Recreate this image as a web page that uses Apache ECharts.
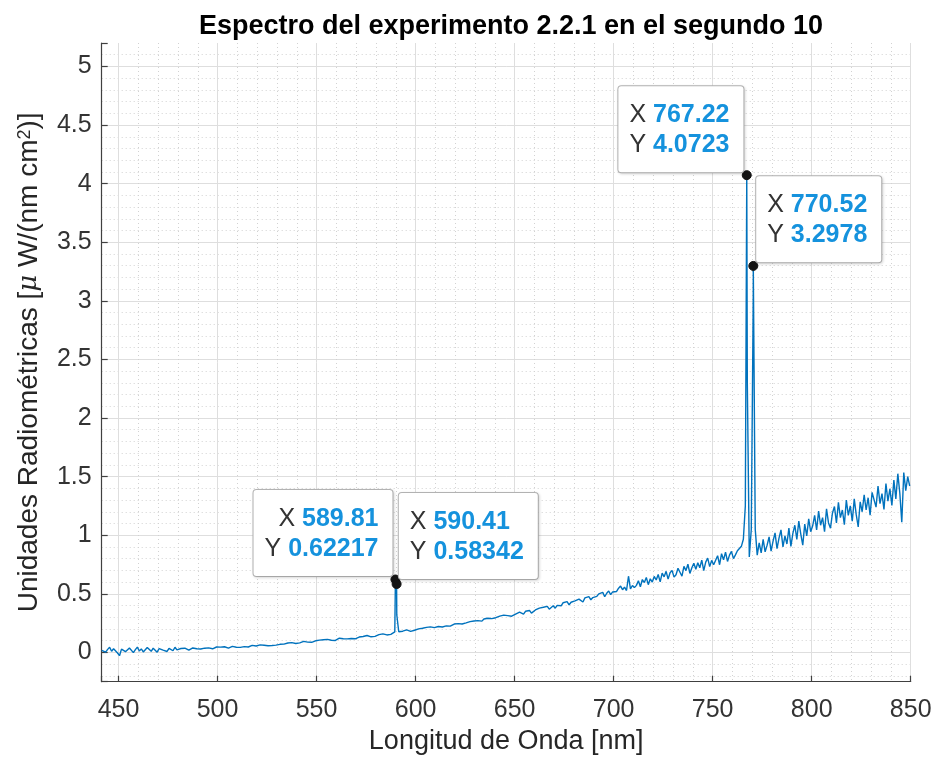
<!DOCTYPE html>
<html><head><meta charset="utf-8">
<script src="https://cdn.jsdelivr.net/npm/echarts@6/dist/echarts.min.js"></script>
<style>html,body{margin:0;padding:0;background:#fff}#c{width:934px;height:761px}</style>
</head><body><div id="c"></div>
<script>
// ---------- text ----------
const TITLE = 'Espectro del experimento 2.2.1 en el segundo 10';
const X_NAME = 'Longitud de Onda [nm]';
const Y_NAME = 'Unidades Radiométricas [{mu|μ} W/(nm cm{sup|2})]';

// ---------- axis ranges ----------
const X_MIN = 441.5, X_MAX = 850;
const Y_MIN = -0.25, Y_MAX = 5.2;

// ---------- spectrum: wavelength grid start / step (nm) ----------
const WL_START = 441.5;
const WL_STEP = 1;

// ---------- spectrum values (one per nm) ----------
const SPEC_Y = [
  0.018,0.035,0.002,0.026,0.044,0.010,0.031,0.015,-0.005,-0.028,
  0.028,0.040,0.006,0.019,0.037,0.033,-0.002,0.024,0.045,0.012,
  0.030,0.004,0.017,0.041,0.027,0.009,0.036,0.020,0.002,0.033,
  0.040,0.019,0.028,0.008,0.035,0.031,0.014,0.044,0.022,0.016,
  0.033,0.022,0.036,0.030,0.019,0.027,0.038,0.024,0.031,0.021,
  0.029,0.041,0.036,0.026,0.039,0.044,0.031,0.035,0.046,0.033,
  0.045,0.037,0.048,0.041,0.036,0.047,0.051,0.040,0.044,0.049,
  0.043,0.054,0.049,0.058,0.046,0.052,0.060,0.047,0.055,0.051,
  0.064,0.055,0.061,0.068,0.057,0.063,0.059,0.070,0.062,0.066,
  0.069,0.077,0.071,0.066,0.080,0.074,0.083,0.070,0.076,0.085,
  0.081,0.090,0.094,0.083,0.088,0.097,0.086,0.092,0.099,0.089,
  0.105,0.097,0.108,0.101,0.111,0.099,0.104,0.113,0.102,0.109,
  0.121,0.112,0.117,0.126,0.115,0.124,0.119,0.130,0.116,0.125,
  0.131,0.140,0.136,0.129,0.144,0.138,0.133,0.147,0.137,0.142,
  0.152,0.146,0.158,0.155,0.149,0.162,0.154,0.160,0.175,0.320,
  0.176,0.186,0.181,0.175,0.192,0.186,0.180,0.196,0.189,0.199,
  0.201,0.212,0.206,0.199,0.214,0.209,0.218,0.204,0.211,0.220,
  0.221,0.229,0.217,0.232,0.226,0.238,0.224,0.231,0.242,0.233,
  0.246,0.255,0.242,0.259,0.252,0.247,0.263,0.256,0.268,0.258,
  0.271,0.280,0.267,0.285,0.279,0.291,0.274,0.288,0.282,0.296,
  0.299,0.310,0.304,0.318,0.301,0.314,0.322,0.309,0.317,0.327,
  0.330,0.344,0.337,0.326,0.351,0.340,0.358,0.335,0.349,0.362,
  0.364,0.378,0.361,0.385,0.374,0.393,0.369,0.382,0.398,0.377,
  0.401,0.415,0.398,0.424,0.410,0.433,0.405,0.428,0.419,0.440,
  0.438,0.455,0.447,0.430,0.465,0.452,0.476,0.449,0.468,0.481,
  0.478,0.500,0.490,0.512,0.475,0.505,0.524,0.493,0.516,0.532,
  0.520,0.548,0.566,0.535,0.557,0.528,0.650,0.542,0.571,0.553,
  0.572,0.612,0.560,0.622,0.596,0.640,0.578,0.628,0.600,0.648,
  0.618,0.665,0.602,0.676,0.645,0.692,0.625,0.680,0.700,0.642,
  0.662,0.718,0.684,0.650,0.735,0.698,0.752,0.674,0.722,0.760,
  0.710,0.765,0.722,0.788,0.698,0.770,0.805,0.732,0.785,0.748,
  0.765,0.825,0.748,0.842,0.790,0.856,0.776,0.830,0.862,0.800,
  0.832,0.868,0.851,0.905,0.965,1.250,2.300,0.815,1.050,3.050,
  1.050,0.830,0.935,0.850,0.965,0.858,0.915,0.985,0.865,0.950,
  1.020,0.885,0.975,1.045,0.900,0.995,0.925,1.060,0.905,1.015,
  1.085,0.965,1.120,1.010,0.915,1.095,0.995,1.140,1.030,1.080,
  1.170,1.045,1.205,1.085,1.150,1.030,1.225,1.105,1.060,1.190,
  1.245,1.105,1.280,1.150,1.215,1.090,1.300,1.170,1.250,1.120,
  1.310,1.175,1.070,1.285,1.200,1.345,1.215,1.320,1.170,1.365,
  1.380,1.240,1.420,1.270,1.355,1.220,1.440,1.290,1.395,1.255,
  1.470,1.310,1.525,1.360,1.110,1.535,1.380,1.500,1.420
];

// ---------- emission line samples (off the 1 nm grid) ----------
const PEAK_X = [589.81, 590.10, 590.41, 767.22, 770.52];
const PEAK_Y = [0.62217, 0.55, 0.58342, 4.0723, 3.2978];

// ---------- data tips ----------
const TIP_X = [589.81, 590.41, 767.22, 770.52];
const TIP_Y = [0.62217, 0.58342, 4.0723, 3.2978];

// ---------- styles (label placement per tip) ----------
const TIP_STYLE = [
  {position: [2.1, 1.5], align: 'right'},
  {position: [7.2, 0], align: 'left'},
  {position: [1.7, 2.1], align: 'right'},
  {position: [7.9, 1.3], align: 'left'}
];

const FONT = '"Liberation Sans", Arial, Helvetica, sans-serif';

const spectrum = SPEC_Y.map((y, i) => [WL_START + i * WL_STEP, y])
  .concat(PEAK_X.map((x, i) => [x, PEAK_Y[i]]))
  .sort((a, b) => a[0] - b[0]);

const tips = TIP_X.map((x, i) => ({
  value: [x, TIP_Y[i]],
  label: {
    position: TIP_STYLE[i].position,
    align: TIP_STYLE[i].align,
    verticalAlign: 'bottom'
  }
}));

const chart = echarts.init(document.getElementById('c'), null, {renderer: 'canvas'});
chart.setOption({
  animation: false,
  backgroundColor: '#ffffff',
  title: {
    text: TITLE,
    left: 506, textAlign: 'center', top: 8,
    textStyle: {fontFamily: FONT, fontSize: 27, fontWeight: 'bold', color: '#000000'}
  },
  grid: {left: 101.7, right: 23.3, top: 43, bottom: 79.3, containLabel: false, outerBoundsMode: 'none'},
  xAxis: {
    type: 'value', min: X_MIN, max: X_MAX, splitNumber: 8,
    name: X_NAME, nameLocation: 'middle', nameGap: 46,
    nameTextStyle: {fontFamily: FONT, fontSize: 27, color: '#262626'},
    axisLine: {show: true, onZero: false, lineStyle: {color: '#404040', width: 1.2}},
    axisTick: {show: true, inside: true, length: 6, lineStyle: {color: '#404040', width: 1.2}},
    axisLabel: {fontFamily: FONT, fontSize: 25, color: '#333333', margin: 16, showMinLabel: false},
    splitLine: {show: true, lineStyle: {color: '#dedede', width: 1}},
    minorTick: {show: true, splitNumber: 5, length: 0, lineStyle: {opacity: 0}},
    minorSplitLine: {show: true, lineStyle: {color: '#d2d2d2', width: 1, type: [1, 3]}}
  },
  yAxis: {
    type: 'value', min: Y_MIN, max: Y_MAX, splitNumber: 11,
    name: Y_NAME, nameLocation: 'middle', nameGap: 58, nameRotate: 90,
    nameTextStyle: {
      fontFamily: FONT, fontSize: 28, color: '#262626',
      rich: {
        mu: {fontFamily: '"DejaVu Serif", serif', fontStyle: 'italic', fontSize: 26, color: '#262626', lineHeight: 28},
        sup: {fontFamily: FONT, fontSize: 18, color: '#262626', verticalAlign: 'top', lineHeight: 18}
      }
    },
    axisLine: {show: true, onZero: false, lineStyle: {color: '#404040', width: 1.2}},
    axisTick: {show: true, inside: true, length: 6, lineStyle: {color: '#404040', width: 1.2}},
    axisLabel: {fontFamily: FONT, fontSize: 25, color: '#333333', margin: 10, showMinLabel: false, showMaxLabel: false},
    splitLine: {show: true, showMaxLine: false, lineStyle: {color: '#dedede', width: 1}},
    minorTick: {show: true, splitNumber: 5, length: 0, lineStyle: {opacity: 0}},
    minorSplitLine: {show: true, lineStyle: {color: '#d2d2d2', width: 1, type: [1, 3]}}
  },
  series: [
    {
      type: 'line', data: spectrum, showSymbol: false, symbol: 'none', sampling: null,
      lineStyle: {color: '#0072BD', width: 1.4}, z: 2, silent: true
    },
    {
      type: 'scatter', data: tips, symbol: 'circle', symbolSize: 9, z: 5,
      itemStyle: {color: '#141414', borderColor: '#141414', borderWidth: 1, opacity: 1},
      label: {
        show: true, opacity: 1,
        formatter: p => '{k|X} {v|' + p.value[0] + '}\n{k|Y} {v|' + p.value[1] + '}',
        backgroundColor: '#ffffff', borderColor: '#b5b5b5', borderWidth: 1, borderRadius: 3,
        padding: [14, 14, 12, 11],
        shadowBlur: 3, shadowColor: 'rgba(0,0,0,0.12)', shadowOffsetX: 1, shadowOffsetY: 1,
        fontFamily: FONT, fontSize: 25, lineHeight: 30, color: '#262626',
        rich: {
          k: {fontFamily: FONT, fontSize: 25, lineHeight: 30, color: '#333333'},
          v: {fontFamily: FONT, fontSize: 25, lineHeight: 30, fontWeight: 'bold', color: '#1592dd'}
        }
      }
    }
  ]
});
</script>
</body></html>
